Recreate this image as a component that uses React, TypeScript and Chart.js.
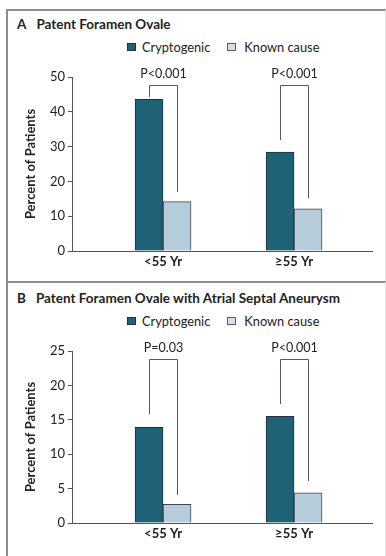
import React, { useEffect, useRef } from "react";
import { Chart, registerables } from "chart.js";

Chart.register(...registerables);

// ---- data ----
const categories = ["<55 Yr", "\u226555 Yr"];
const seriesNames = ["Cryptogenic", "Known cause"];

// Panel A: Patent Foramen Ovale
const aCryptogenic = [43.6, 28.4];
const aKnownCause = [14.2, 12.1];
const aPValues = ["P<0.001", "P<0.001"];
const aBracketTop = [47.7, 47.7];
const aBracketLeftEnd = [44.3, 31.9];
const aBracketRightEnd = [17.0, 15.1];
const aYTicks = [0, 10, 20, 30, 40, 50];

// Panel B: Patent Foramen Ovale with Atrial Septal Aneurysm
const bCryptogenic = [13.9, 15.5];
const bKnownCause = [2.7, 4.4];
const bPValues = ["P=0.03", "P<0.001"];
const bBracketTop = [23.9, 23.9];
const bBracketLeftEnd = [15.8, 17.3];
const bBracketRightEnd = [4.1, 6.1];
const bYTicks = [0, 5, 10, 15, 20, 25];

const FONT = "Lato, 'Open Sans', sans-serif";
const DARK = "#1f6277";
const LIGHT = "#b7ccdb";
const TEXT = "#222222";
const AXIS = "#555555";
const BRACKET = "#5e5358";

type PanelProps = {
  top: number;
  letter: string;
  title: string;
  crypt: number[];
  known: number[];
  pvals: string[];
  bTop: number[];
  bLeft: number[];
  bRight: number[];
  yTicks: number[];
  plotHeight: number;
};

function Panel(p: PanelProps) {
  const ref = useRef<HTMLCanvasElement | null>(null);
  useEffect(() => {
    if (!ref.current) return;
    const yMax = p.yTicks[p.yTicks.length - 1];
    const bracketPlugin = {
      id: "brackets",
      afterDatasetsDraw(chart: any) {
        const ctx = chart.ctx;
        const y = chart.scales.y;
        const m0 = chart.getDatasetMeta(0);
        const m1 = chart.getDatasetMeta(1);
        ctx.save();
        ctx.strokeStyle = BRACKET;
        ctx.lineWidth = 1;
        for (let i = 0; i < categories.length; i++) {
          const xl = Math.round(m0.data[i].x) + 0.5;
          const xr = Math.round(m1.data[i].x) + 0.5;
          const yt = Math.round(y.getPixelForValue(p.bTop[i])) + 0.5;
          const yl = y.getPixelForValue(p.bLeft[i]);
          const yr = y.getPixelForValue(p.bRight[i]);
          ctx.beginPath();
          ctx.moveTo(xl, yl);
          ctx.lineTo(xl, yt);
          ctx.lineTo(xr, yt);
          ctx.lineTo(xr, yr);
          ctx.stroke();
          ctx.fillStyle = TEXT;
          ctx.font = `12.5px ${FONT}`;
          ctx.textAlign = "center";
          ctx.textBaseline = "middle";
          ctx.fillText(p.pvals[i], (xl + xr) / 2, yt - 12);
        }
        ctx.restore();
      },
    };
    const chart = new Chart(ref.current, {
      type: "bar",
      data: {
        datasets: [
          {
            label: seriesNames[0],
            data: p.crypt.map((v, i) => ({ x: i, y: v })),
            backgroundColor: DARK,
            borderColor: "#24323b",
            borderWidth: 1,
          },
          {
            label: seriesNames[1],
            data: p.known.map((v, i) => ({ x: i, y: v })),
            backgroundColor: LIGHT,
            borderColor: "#3c4852",
            borderWidth: 1,
          },
        ],
      },
      options: {
        animation: false,
        responsive: false,
        maintainAspectRatio: false,
        barThickness: 28,
        layout: { padding: { top: 22, right: 12, left: 0, bottom: 0 } },
        plugins: { legend: { display: false }, tooltip: { enabled: false }, title: { display: false } },
        scales: {
          x: {
            type: "linear",
            min: -0.695,
            max: 1.595,
            offset: false,
            afterFit: (s: any) => {
              s.height = 24;
            },
            afterBuildTicks: (s: any) => {
              s.ticks = categories.map((_, i) => ({ value: i }));
            },
            grid: { display: false, drawTicks: false },
            border: { display: true, color: AXIS, width: 1 },
            ticks: {
              padding: 3,
              color: TEXT,
              font: { family: FONT, size: 13, weight: "bold" },
              callback: (v: any) => categories[v as number] ?? "",
              maxRotation: 0,
            },
          },
          y: {
            min: 0,
            max: yMax,
            afterFit: (s: any) => {
              s.width = 64;
            },
            afterBuildTicks: (s: any) => {
              s.ticks = p.yTicks.map((v) => ({ value: v }));
            },
            grid: { display: true, drawOnChartArea: false, drawTicks: true, tickLength: 4, color: AXIS },
            border: { display: true, color: AXIS, width: 1 },
            ticks: { padding: 3, color: TEXT, font: { family: FONT, size: 13 } },
            title: {
              display: true,
              text: "Percent of Patients",
              color: TEXT,
              font: { family: FONT, size: 13, weight: "bold" },
              padding: { top: 15, bottom: 0 },
            },
          },
        },
      } as any,
      plugins: [bracketPlugin],
    });
    return () => chart.destroy();
  }, []);

  const canvasH = 22 + p.plotHeight + 24;
  return (
    <div style={{ position: "absolute", left: 0, top: p.top, width: 386, height: 272 }}>
      <div
        style={{
          position: "absolute",
          left: 17,
          top: 6,
          font: `bold 13.5px ${FONT}`,
          color: TEXT,
          whiteSpace: "nowrap",
        }}
      >
        <span style={{ marginRight: 10 }}>{p.letter}</span>
        {p.title}
      </div>
      <div
        style={{
          position: "absolute",
          left: 127,
          top: 29,
          display: "flex",
          alignItems: "center",
          font: `12.8px ${FONT}`,
          color: TEXT,
          whiteSpace: "nowrap",
        }}
      >
        <span style={{ display: "inline-block", width: 7, height: 6, background: DARK, border: "1px solid #24323b", marginRight: 6 }} />
        <span style={{ marginRight: 17 }}>{seriesNames[0]}</span>
        <span style={{ display: "inline-block", width: 7, height: 6, background: "#d3dee6", border: "1px solid #55606a", marginRight: 8 }} />
        <span>{seriesNames[1]}</span>
      </div>
      <canvas
        ref={ref}
        width={376}
        height={canvasH}
        style={{ position: "absolute", left: 8, top: 45, width: 376, height: canvasH }}
      />
    </div>
  );
}

export default function App() {
  return (
    <div style={{ position: "fixed", left: 0, top: 0, width: 386, height: 556, background: "#fff", overflow: "hidden" }}>
      <div
        style={{
          position: "absolute",
          left: 6,
          top: 9,
          width: 377,
          height: 272,
          borderTop: "2px solid #8c8c8c",
          borderLeft: "2px solid #8c8c8c",
          borderRight: "1px solid #e2e2e2",
        }}
      />
      <div
        style={{
          position: "absolute",
          left: 6,
          top: 281,
          width: 377,
          height: 290,
          borderTop: "2px solid #8c8c8c",
          borderLeft: "2px solid #8c8c8c",
          borderRight: "1px solid #e2e2e2",
        }}
      />
      <Panel
        top={10}
        letter="A"
        title="Patent Foramen Ovale"
        crypt={aCryptogenic}
        known={aKnownCause}
        pvals={aPValues}
        bTop={aBracketTop}
        bLeft={aBracketLeftEnd}
        bRight={aBracketRightEnd}
        yTicks={aYTicks}
        plotHeight={174}
      />
      <Panel
        top={284}
        letter="B"
        title="Patent Foramen Ovale with Atrial Septal Aneurysm"
        crypt={bCryptogenic}
        known={bKnownCause}
        pvals={bPValues}
        bTop={bBracketTop}
        bLeft={bBracketLeftEnd}
        bRight={bBracketRightEnd}
        yTicks={bYTicks}
        plotHeight={172}
      />
    </div>
  );
}
